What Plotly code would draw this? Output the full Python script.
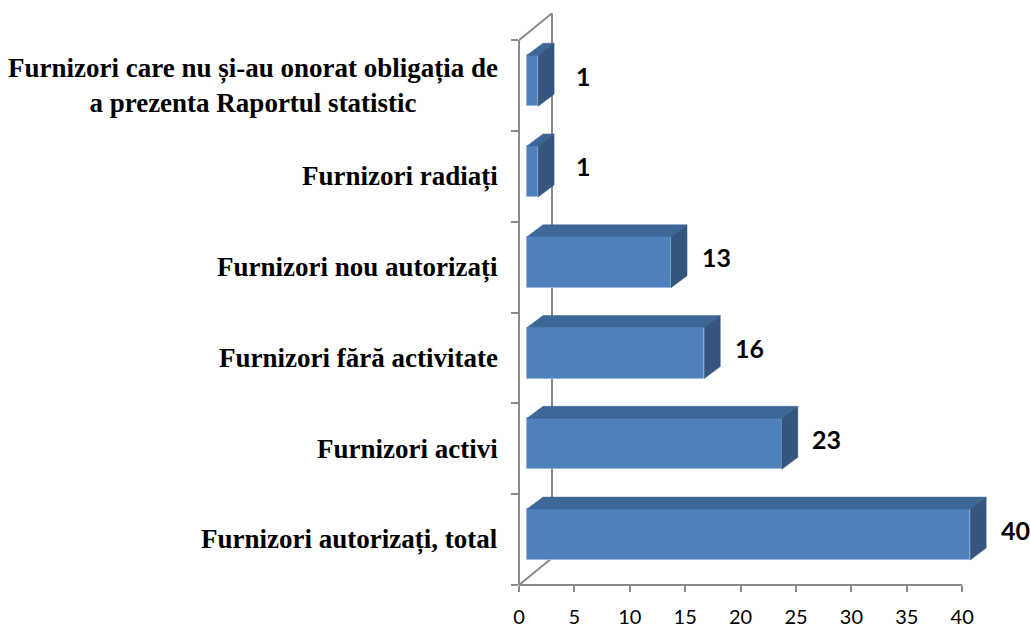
import plotly.graph_objects as go

# ---- data (bottom to top) ----
categories = [
    "Furnizori autorizați, total",
    "Furnizori activi",
    "Furnizori fără activitate",
    "Furnizori nou autorizați",
    "Furnizori radiați",
    "Furnizori care nu și-au onorat obligația de<br>a prezenta Raportul statistic",
]
values = [40, 23, 16, 13, 1, 1]
x_ticks = [0, 5, 10, 15, 20, 25, 30, 35, 40]

# ---- geometry / style ----
W, H = 1031, 628
ML, MR, MT, MB = 519, 9, 13, 43
XMAX = 45.4
YMIN, YMAX = -0.5, 5.8
KX = (W - ML - MR) / XMAX          # px per x unit
KY = (H - MT - MB) / (YMAX - YMIN)  # px per category

FRONT_DX = 8 / KX
FRONT_DY = 5 / KY
FRONT_H = 51 / KY
DEPTH_DX = 16 / KX
DEPTH_DY = 12 / KY
WALL_DX = 33 / KX
WALL_DY = 27 / KY
LABEL_DX = 53 / KX
LABEL_DY = 10 / KY

FRONT = "#4F81BD"
TOP = "#3D6797"
SIDE = "#34567F"
AXIS = "#898989"

ypos = list(range(len(categories)))
offset = -FRONT_H / 2 + FRONT_DY

fig = go.Figure()
fig.add_trace(go.Bar(
    y=ypos, x=values, base=FRONT_DX, orientation="h",
    width=FRONT_H, offset=offset,
    marker=dict(color=FRONT, line=dict(color="rgba(150,182,222,0.9)", width=1)),
    hoverinfo="skip", showlegend=False,
))

shapes = []
# back wall / floor edges
shapes.append(dict(type="line", xref="x", yref="y", x0=0, y0=5.5, x1=WALL_DX, y1=5.5 + WALL_DY,
                   line=dict(color=AXIS, width=2), layer="below"))
shapes.append(dict(type="line", xref="x", yref="y", x0=WALL_DX, y0=-0.5 + WALL_DY, x1=WALL_DX, y1=5.5 + WALL_DY,
                   line=dict(color=AXIS, width=2), layer="below"))
shapes.append(dict(type="line", xref="x", yref="y", x0=0, y0=-0.5, x1=WALL_DX, y1=-0.5 + WALL_DY,
                   line=dict(color=AXIS, width=2), layer="below"))
# axis lines
shapes.append(dict(type="line", xref="paper", yref="y", x0=0, x1=0, y0=-0.5, y1=5.5,
                   line=dict(color=AXIS, width=2)))
shapes.append(dict(type="line", xref="x", yref="paper", x0=0, x1=x_ticks[-1], y0=0, y1=0,
                   line=dict(color=AXIS, width=2)))

annotations = []
for i, (cat, v) in enumerate(zip(categories, values)):
    yb = i + offset
    yt = yb + FRONT_H
    x0 = FRONT_DX
    x1 = FRONT_DX + v
    top_path = (f"M {x0},{yt} L {x1},{yt} L {x1 + DEPTH_DX},{yt + DEPTH_DY} "
                f"L {x0 + DEPTH_DX},{yt + DEPTH_DY} Z")
    side_path = (f"M {x1},{yb} L {x1},{yt} L {x1 + DEPTH_DX},{yt + DEPTH_DY} "
                 f"L {x1 + DEPTH_DX},{yb + DEPTH_DY} Z")
    shapes.append(dict(type="path", xref="x", yref="y", path=top_path, fillcolor=TOP,
                       line=dict(color=TOP, width=0.5), layer="above"))
    shapes.append(dict(type="path", xref="x", yref="y", path=side_path, fillcolor=SIDE,
                       line=dict(color=SIDE, width=0.5), layer="above"))
    annotations.append(dict(
        xref="x", yref="y", x=v + LABEL_DX, y=i + LABEL_DY,
        text=f"<b>{v}</b>", showarrow=False, xanchor="center", yanchor="middle",
        font=dict(family="Lato", size=25, color="black"),
    ))
    annotations.append(dict(
        xref="x", yref="y", x=0, xshift=-19, y=i,
        text=f"<b>{cat}</b>", showarrow=False, xanchor="right", yanchor="middle",
        align="center", font=dict(family="Liberation Serif", size=27, color="black"),
    ))

fig.update_layout(
    width=W, height=H,
    margin=dict(l=ML, r=MR, t=MT, b=MB, pad=0, autoexpand=False),
    paper_bgcolor="white", plot_bgcolor="white",
    xaxis=dict(range=[0, XMAX], tickmode="array", tickvals=x_ticks,
               ticks="outside", ticklen=6, tickwidth=2, tickcolor=AXIS,
               ticklabelstandoff=8, automargin=False,
               showgrid=False, zeroline=False, showline=False,
               tickfont=dict(family="Lato", size=20, color="black")),
    yaxis=dict(range=[YMIN, YMAX], tickmode="array",
               tickvals=[k - 0.5 for k in range(len(categories) + 1)],
               ticks="outside", ticklen=7, tickwidth=2, tickcolor=AXIS,
               automargin=False,
               showticklabels=False, showgrid=False, zeroline=False, showline=False),
    shapes=shapes, annotations=annotations,
    bargap=0, showlegend=False,
)

fig.write_html("out.html", config={"displayModeBar": False},
               post_script="document.body.style.margin='0px';document.body.style.overflow='hidden';")
